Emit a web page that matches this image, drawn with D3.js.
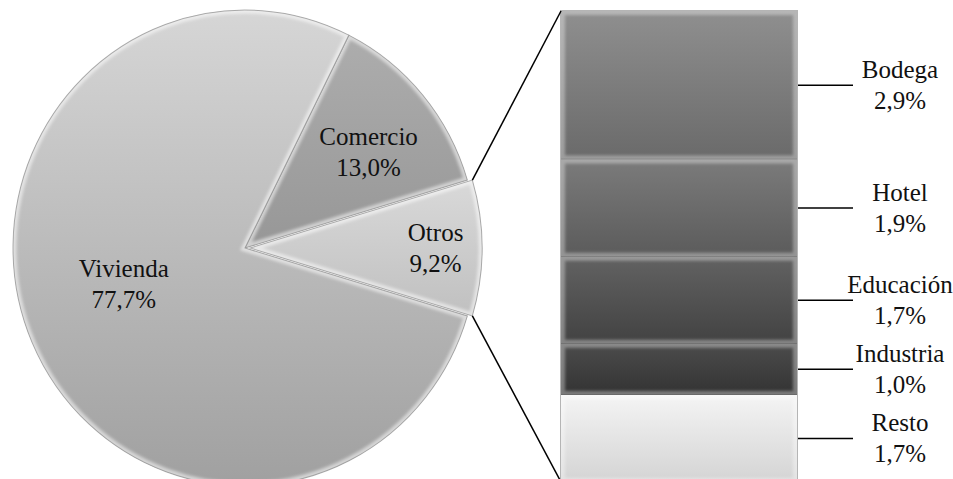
<!DOCTYPE html>
<html><head><meta charset="utf-8">
<script src="https://cdn.jsdelivr.net/npm/d3@7"></script>
<style>html,body{margin:0;padding:0;background:#fff;overflow:hidden;} svg{display:block;}</style>
</head><body>
<svg id="chart" width="953" height="479"></svg>
<script>
// Main sectors of the pie
const pieCategories = ["Comercio", "Otros", "Vivienda"];
const pieValues = [13.0, 9.2, 77.7];
// Breakdown of "Otros", drawn as the stacked bar (top to bottom)
const barCategories = ["Bodega", "Hotel", "Educación", "Industria", "Resto"];
const barValues = [2.9, 1.9, 1.7, 1.0, 1.7];
const splitCategory = "Otros";

const fmt = v => d3.format(".1f")(v).replace(".", ",") + "%";
const svg = d3.select("#chart");
const defs = svg.append("defs");
const FONT = "'Liberation Serif', 'Times New Roman', serif";

// soft edge used for the bevel highlights
defs.append("filter").attr("id", "soft").attr("x", "-10%").attr("y", "-10%").attr("width", "120%").attr("height", "120%")
  .append("feGaussianBlur").attr("stdDeviation", 1.6);

function vGrad(id, top, bottom) {
  const g = defs.append("linearGradient").attr("id", id)
    .attr("x1", 0).attr("y1", 0).attr("x2", 0).attr("y2", 1);
  g.append("stop").attr("offset", "0%").attr("stop-color", top);
  g.append("stop").attr("offset", "100%").attr("stop-color", bottom);
  return `url(#${id})`;
}

// ---- pie ----
const cx = 245, cy = 248, rx = 232, ry = 238, explode = 5;
const total = d3.sum(pieValues);
const iSplit = pieCategories.indexOf(splitCategory);
const before = d3.sum(pieValues.slice(0, iSplit));
const start = Math.PI / 2 - (before + pieValues[iSplit] / 2) / total * 2 * Math.PI;
const arcs = d3.pie().sort(null).startAngle(start).endAngle(start + 2 * Math.PI)(pieValues);
const arc = d3.arc().innerRadius(0).outerRadius(rx);

const pieFills = {
  "Comercio": vGrad("gCom", "#adadad", "#979797"),
  "Otros": vGrad("gOtr", "#d9d9d9", "#c0c0c0"),
  "Vivienda": vGrad("gViv", "#d6d6d6", "#a0a0a0")
};
const sy = ry / rx;
const pieG = svg.append("g");

arcs.forEach((a, i) => {
  const name = pieCategories[i];
  const mid = (a.startAngle + a.endAngle) / 2;
  const off = name === splitCategory ? explode : 0;
  const ox = cx + off * Math.sin(mid), oy = cy - off * Math.cos(mid);
  const g = pieG.append("g").attr("transform", `translate(${ox},${oy}) scale(1,${sy})`);
  const d = arc(a);
  defs.append("clipPath").attr("id", "clip" + i).append("path").attr("d", d);
  g.append("path").attr("d", d).attr("fill", pieFills[name]);
  g.append("path").attr("d", d).attr("fill", "none").attr("stroke", "#fff")
    .attr("stroke-width", 7).attr("stroke-opacity", 0.55)
    .attr("clip-path", `url(#clip${i})`).attr("filter", "url(#soft)");
  g.append("path").attr("d", d).attr("fill", "none").attr("stroke", "#8c8c8c")
    .attr("stroke-width", 1).attr("stroke-opacity", 0.7);
});

// pie labels: radius factor and angular nudge (degrees) for each sector
const labelSpot = { "Comercio": [0.667, 3], "Otros": [0.80, 0], "Vivienda": [0.545, 7] };
arcs.forEach((a, i) => {
  const name = pieCategories[i];
  const mid = (a.startAngle + a.endAngle) / 2;
  const [k, da] = labelSpot[name];
  const ang = mid + da * Math.PI / 180;
  const off = name === splitCategory ? explode : 0;
  const r = rx * k + off;
  const x = cx + r * Math.sin(ang), y = cy - r * Math.cos(ang) * sy;
  const t = svg.append("text").attr("font-family", FONT).attr("font-size", 25)
    .attr("text-anchor", "middle").attr("fill", "#111");
  t.append("tspan").attr("x", x).attr("y", y - 7.5).text(name);
  t.append("tspan").attr("x", x).attr("y", y + 23.5).text(fmt(pieValues[i]));
});

// ---- stacked bar ----
const barX0 = 561, barX1 = 797;
const y = d3.scaleLinear().domain([0, d3.sum(barValues)]).range([482, 11]);
const barFills = [
  vGrad("gB0", "#8f8f8f", "#6a6a6a"),
  vGrad("gB1", "#7b7b7b", "#5b5b5b"),
  vGrad("gB2", "#626262", "#424242"),
  vGrad("gB3", "#4c4c4c", "#333333"),
  vGrad("gB4", "#f4f4f4", "#d4d4d4")
];
// cumulative from the bottom of the bar
const segs = [];
let acc = 0;
for (let i = barValues.length - 1; i >= 0; i--) {
  segs[i] = { lo: acc, hi: acc + barValues[i] };
  acc += barValues[i];
}
const barG = svg.append("g");
segs.forEach((s, i) => {
  const top = y(s.hi), h = y(s.lo) - y(s.hi);
  defs.append("clipPath").attr("id", "bclip" + i).append("rect")
    .attr("x", barX0).attr("y", top).attr("width", barX1 - barX0).attr("height", h);
  barG.append("rect").attr("x", barX0).attr("y", top).attr("width", barX1 - barX0).attr("height", h)
    .attr("fill", barFills[i]);
  barG.append("rect").attr("x", barX0).attr("y", top).attr("width", barX1 - barX0).attr("height", h)
    .attr("fill", "none").attr("stroke", "#fff").attr("stroke-width", 8).attr("stroke-opacity", 0.35)
    .attr("clip-path", `url(#bclip${i})`).attr("filter", "url(#soft)");
  barG.append("line").attr("x1", barX0).attr("x2", barX1).attr("y1", top + h).attr("y2", top + h)
    .attr("stroke", "#000").attr("stroke-opacity", 0.25).attr("stroke-width", 1.5);
});
barG.append("rect").attr("x", barX0 - 0.5).attr("y", y.range()[1] - 0.5)
  .attr("width", barX1 - barX0 + 1).attr("height", y.range()[0] - y.range()[1] + 1)
  .attr("fill", "none").attr("stroke", "#b5b5b5").attr("stroke-width", 1);

// connector lines from the split sector to the bar
const aS = arcs[iSplit];
const midS = (aS.startAngle + aS.endAngle) / 2;
const ex = cx + explode * Math.sin(midS), ey = cy - explode * Math.cos(midS);
const edge = ang => [ex + rx * Math.sin(ang), ey - ry * Math.cos(ang)];
const pTop = edge(aS.startAngle), pBot = edge(aS.endAngle);
svg.append("line").attr("x1", pTop[0]).attr("y1", pTop[1]).attr("x2", barX0).attr("y2", y.range()[1])
  .attr("stroke", "#000").attr("stroke-width", 1.5);
svg.append("line").attr("x1", pBot[0]).attr("y1", pBot[1]).attr("x2", barX0).attr("y2", y.range()[0])
  .attr("stroke", "#000").attr("stroke-width", 1.5);

// leader lines and labels for the bar segments
segs.forEach((s, i) => {
  const m = y((s.lo + s.hi) / 2);
  svg.append("line").attr("x1", barX1 + 1).attr("x2", 853).attr("y1", m).attr("y2", m)
    .attr("stroke", "#000").attr("stroke-width", 1.5);
  const t = svg.append("text").attr("font-family", FONT).attr("font-size", 25)
    .attr("text-anchor", "middle").attr("fill", "#111");
  t.append("tspan").attr("x", 900).attr("y", m - 7.5).text(barCategories[i]);
  t.append("tspan").attr("x", 900).attr("y", m + 23.5).text(fmt(barValues[i]));
});
</script>
</body></html>
